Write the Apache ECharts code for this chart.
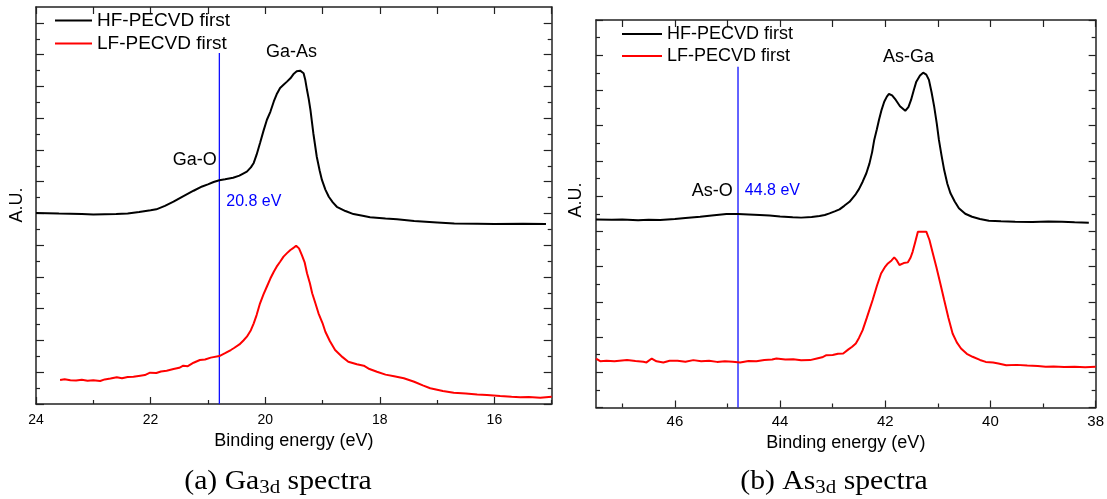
<!DOCTYPE html>
<html><head><meta charset="utf-8">
<script src="https://cdn.jsdelivr.net/npm/echarts@6/dist/echarts.min.js"></script>
<style>html,body{margin:0;padding:0;background:#fff}#c{width:1107px;height:499px}</style>
</head><body><div id="c"></div>
<script>
// ---------- data ----------
const seriesNames = ['HF-PECVD first', 'LF-PECVD first'];

// Ga3d panel: [binding energy (eV), intensity (a.u.)]
const hfGa = [[24.0,12.03],[23.8,12.01],[23.6,11.99],[23.4,11.98],[23.2,11.96],[23.0,11.93],[22.8,11.95],[22.6,11.97],[22.4,12.0],[22.2,12.09],[22.0,12.2],[21.9,12.26],[21.75,12.48],[21.6,12.74],[21.45,13.05],[21.25,13.43],[21.1,13.7],[21.0,13.83],[20.9,13.98],[20.8,14.09],[20.7,14.15],[20.56,14.25],[20.45,14.38],[20.32,14.63],[20.25,14.9],[20.2,15.18],[20.15,15.7],[20.09,16.44],[20.03,17.2],[19.97,17.9],[19.91,18.4],[19.85,19.05],[19.8,19.5],[19.74,19.9],[19.68,20.1],[19.62,20.3],[19.56,20.51],[19.5,20.8],[19.45,20.95],[19.39,20.99],[19.33,20.83],[19.3,20.4],[19.27,19.77],[19.24,19.2],[19.21,18.51],[19.16,17.05],[19.1,15.57],[19.05,14.7],[19.01,14.11],[18.95,13.5],[18.89,13.05],[18.82,12.7],[18.75,12.42],[18.6,12.15],[18.46,11.96],[18.3,11.85],[18.17,11.76],[17.9,11.68],[17.7,11.63],[17.4,11.52],[17.0,11.43],[16.7,11.36],[16.3,11.35],[16.0,11.34],[15.5,11.35],[15.1,11.34]];
const lfGa = [[23.58,1.51],[23.5,1.56],[23.4,1.5],[23.3,1.48],[23.2,1.52],[23.1,1.47],[23.0,1.5],[22.88,1.45],[22.8,1.55],[22.7,1.6],[22.59,1.68],[22.5,1.62],[22.4,1.7],[22.3,1.72],[22.18,1.78],[22.1,1.82],[22.01,1.97],[21.9,1.95],[21.82,2.05],[21.72,2.1],[21.6,2.2],[21.5,2.28],[21.43,2.41],[21.35,2.38],[21.25,2.6],[21.14,2.77],[21.05,2.8],[20.95,2.92],[20.8,3.02],[20.7,3.2],[20.6,3.4],[20.55,3.51],[20.45,3.75],[20.38,4.0],[20.32,4.24],[20.25,4.65],[20.2,5.08],[20.15,5.6],[20.09,6.34],[20.03,6.9],[19.97,7.4],[19.91,7.9],[19.85,8.33],[19.8,8.65],[19.74,8.96],[19.68,9.28],[19.62,9.5],[19.56,9.7],[19.5,9.85],[19.46,9.97],[19.41,9.8],[19.36,9.38],[19.31,8.9],[19.27,8.23],[19.22,7.6],[19.18,6.97],[19.12,6.3],[19.07,5.71],[19.0,5.1],[18.95,4.55],[18.87,3.95],[18.78,3.4],[18.65,2.95],[18.55,2.66],[18.4,2.5],[18.28,2.41],[18.18,2.2],[18.05,2.03],[17.9,1.85],[17.75,1.75],[17.58,1.62],[17.4,1.4],[17.25,1.17],[17.12,0.99],[16.9,0.82],[16.71,0.71],[16.5,0.66],[16.3,0.6],[16.13,0.57],[15.9,0.5],[15.7,0.45],[15.55,0.42],[15.4,0.44],[15.2,0.4],[15.0,0.46]];

// As3d panel
const hfAs = [[47.5,10.68],[47.2,10.66],[47.0,10.67],[46.7,10.63],[46.5,10.66],[46.28,10.64],[46.0,10.7],[45.8,10.76],[45.52,10.83],[45.3,10.9],[45.02,10.98],[44.8,10.98],[44.6,10.96],[44.39,10.93],[44.2,10.9],[44.0,10.85],[43.76,10.8],[43.6,10.78],[43.4,10.82],[43.25,10.87],[43.15,10.93],[43.06,11.02],[42.95,11.15],[42.87,11.25],[42.78,11.45],[42.68,11.68],[42.56,12.12],[42.5,12.4],[42.43,12.82],[42.36,13.3],[42.3,13.86],[42.25,14.5],[42.21,15.19],[42.16,15.8],[42.12,16.32],[42.07,16.9],[42.02,17.36],[41.97,17.65],[41.93,17.8],[41.87,17.72],[41.8,17.46],[41.72,17.1],[41.62,16.85],[41.56,17.05],[41.51,17.46],[41.46,18.0],[41.41,18.5],[41.34,18.85],[41.28,19.01],[41.22,18.9],[41.17,18.6],[41.12,17.9],[41.07,17.08],[41.02,16.1],[40.98,15.19],[40.93,14.3],[40.88,13.48],[40.82,12.7],[40.76,12.16],[40.68,11.7],[40.6,11.31],[40.48,11.0],[40.35,10.83],[40.2,10.7],[40.03,10.6],[39.8,10.57],[39.53,10.55],[39.2,10.53],[38.9,10.56],[38.64,10.55],[38.4,10.52],[38.13,10.49]];
const lfAs = [[47.5,2.78],[47.42,2.63],[47.3,2.66],[47.15,2.62],[46.91,2.69],[46.75,2.64],[46.6,2.6],[46.54,2.56],[46.44,2.78],[46.35,2.62],[46.22,2.56],[46.1,2.65],[45.95,2.66],[45.8,2.6],[45.65,2.69],[45.5,2.63],[45.35,2.66],[45.2,2.59],[45.05,2.63],[44.9,2.6],[44.76,2.56],[44.6,2.64],[44.45,2.62],[44.3,2.7],[44.15,2.72],[44.07,2.78],[43.9,2.72],[43.75,2.74],[43.6,2.68],[43.43,2.69],[43.3,2.78],[43.2,2.85],[43.12,2.97],[43.0,2.98],[42.9,3.05],[42.8,3.07],[42.7,3.3],[42.63,3.45],[42.56,3.64],[42.5,3.95],[42.43,4.39],[42.35,5.1],[42.24,6.1],[42.16,6.9],[42.08,7.61],[42.0,8.0],[41.95,8.18],[41.88,8.35],[41.83,8.52],[41.78,8.35],[41.73,8.09],[41.65,8.2],[41.57,8.24],[41.52,8.5],[41.48,8.84],[41.43,9.4],[41.38,9.98],[41.3,9.98],[41.22,9.98],[41.16,9.51],[41.1,8.8],[41.03,7.99],[40.95,7.0],[40.88,6.1],[40.8,5.1],[40.72,4.2],[40.64,3.7],[40.56,3.35],[40.45,3.05],[40.34,2.88],[40.2,2.7],[40.09,2.59],[39.95,2.55],[39.85,2.5],[39.7,2.4],[39.5,2.42],[39.3,2.38],[39.1,2.35],[38.95,2.31],[38.8,2.33],[38.6,2.3],[38.4,2.32],[38.2,2.29],[38.0,2.31]];

// axis ranges and tick values
const gaXRange = [15, 24];
const asXRange = [38, 47.5];
const gaYRange = [0, 25];
const asYRange = [0, 22];
const gaXMajor = [16, 18, 20, 22, 24];
const gaXMinor = [15, 17, 19, 21, 23];
const gaXTop = [15, 16, 17, 18, 19, 20, 21, 22, 23, 24];
const asXMajor = [38, 40, 42, 44, 46];
const asXMinor = [39, 41, 43, 45, 47];
const asXTop = [38, 39, 40, 41, 42, 43, 44, 45, 46, 47];
const gaYMajor = [0, 2, 4, 6, 8, 10, 12, 14, 16, 18, 20, 22, 24];
const gaYMinor = [1, 3, 5, 7, 9, 11, 13, 15, 17, 19, 21, 23];
const asYMajor = [0, 2, 4, 6, 8, 10, 12, 14, 16, 18, 20, 22];
const asYMinor = [1, 3, 5, 7, 9, 11, 13, 15, 17, 19, 21];

// reference lines (eV) and their top ends
const gaMarker = [[20.8, 0], [20.8, 22.1]];
const asMarker = [[44.8, 0], [44.8, 19.35]];

// annotations: [x, y, text]
const gaNotes = [[21.23, 15.37, 'Ga-O'], [19.54, 22.19, 'Ga-As']];
const gaBlueNote = [[20.68, 12.74, '20.8 eV']];
const asNotes = [[41.56, 19.92, 'As-Ga']];
const asLeftNote = [[44.9, 12.31, 'As-O']];
const asBlueNote = [[44.67, 12.31, '44.8 eV']];

const xTitle = 'Binding energy (eV)';
const yTitle = 'A.U.';
const captions = ['(a) Ga{sub|3d} spectra', '(b) As{sub|3d} spectra'];

// ---------- chart ----------
const FONT = 'Liberation Sans';
const AX = '#222';
const axLine = { show: true, onZero: false, lineStyle: { color: AX, width: 1.5 } };
const noLine = { show: false, onZero: false };

function xMain(grid, range, ticks, labelSize, margin, gap) {
  return { gridIndex: grid, type: 'value', position: 'bottom', inverse: true, min: range[0], max: range[1],
    axisLine: axLine,
    axisTick: { show: true, inside: true, length: 7, customValues: ticks, lineStyle: { color: AX, width: 1.2 } },
    axisLabel: { show: true, customValues: ticks, fontSize: labelSize, margin: margin, color: '#000', fontFamily: FONT },
    splitLine: { show: false },
    name: xTitle, nameLocation: 'middle', nameGap: gap,
    nameTextStyle: { fontSize: 18, color: '#000', fontFamily: FONT } };
}
function tickAxis(grid, pos, range, ticks, len, showLine, inverse) {
  return { gridIndex: grid, type: 'value', position: pos, inverse: !!inverse, min: range[0], max: range[1],
    axisLine: showLine ? axLine : noLine,
    axisTick: { show: true, inside: true, length: len, customValues: ticks, lineStyle: { color: AX, width: 1.2 } },
    axisLabel: { show: false, customValues: ticks },
    splitLine: { show: false } };
}

const chart = echarts.init(document.getElementById('c'), null, { renderer: 'canvas' });

const xAxis = [
  xMain(0, gaXRange, gaXMajor, 14, 9, 25),                   // 0
  tickAxis(0, 'bottom', gaXRange, gaXMinor, 4, false, true), // 1
  tickAxis(0, 'top', gaXRange, gaXTop, 7, true, true),       // 2
  xMain(1, asXRange, asXMajor, 15, 7, 22),                   // 3
  tickAxis(1, 'bottom', asXRange, asXMinor, 4, false, true), // 4
  tickAxis(1, 'top', asXRange, asXTop, 7, true, true)        // 5
];
const yAxis = [
  tickAxis(0, 'left', gaYRange, gaYMajor, 8, true),   // 0
  tickAxis(0, 'left', gaYRange, gaYMinor, 4, false),  // 1
  tickAxis(0, 'right', gaYRange, gaYMajor, 8, true),  // 2
  tickAxis(0, 'right', gaYRange, gaYMinor, 4, false), // 3
  tickAxis(1, 'left', asYRange, asYMajor, 7, true),   // 4
  tickAxis(1, 'left', asYRange, asYMinor, 4, false),  // 5
  tickAxis(1, 'right', asYRange, asYMajor, 7, true),  // 6
  tickAxis(1, 'right', asYRange, asYMinor, 4, false)  // 7
];

function lineSeries(name, data, xi, yi, color) {
  return { name: name, type: 'line', data: data, xAxisIndex: xi, yAxisIndex: yi, symbol: 'none', showSymbol: false,
    lineStyle: { color: color, width: 2 }, itemStyle: { color: color }, silent: true, z: 3 };
}
function markerSeries(data, xi, yi) {
  return { name: 'marker', type: 'line', data: data, xAxisIndex: xi, yAxisIndex: yi, symbol: 'none',
    lineStyle: { color: '#1010ff', width: 1.3 }, silent: true, z: 2 };
}
function noteSeries(notes, xi, yi, color, size, position) {
  return { name: 'notes', type: 'scatter', xAxisIndex: xi, yAxisIndex: yi, symbolSize: 0, silent: true,
    itemStyle: { opacity: 1 },
    data: notes.map(n => ({ value: [n[0], n[1]], name: n[2] })),
    label: { show: true, formatter: '{b}', position: position, distance: 0, color: color, opacity: 1,
      fontSize: size, fontFamily: FONT } };
}

const legendBase = {
  orient: 'vertical', selectedMode: false, itemGap: 4, itemHeight: 2, padding: 0, icon: 'rect',
  data: seriesNames
};

chart.setOption({
  animation: false,
  backgroundColor: '#fff',
  grid: [
    { left: 36, top: 7, width: 515.7, height: 397 },
    { left: 596, top: 20, width: 500.7, height: 387.5 }
  ],
  legend: [
    Object.assign({}, legendBase, { left: 55, top: 11, itemWidth: 37,
      textStyle: { fontSize: 19, fontFamily: FONT, color: '#000', lineHeight: 18 } }),
    Object.assign({}, legendBase, { left: 622, top: 25, itemWidth: 40,
      textStyle: { fontSize: 18, fontFamily: FONT, color: '#000', lineHeight: 18 } })
  ],
  xAxis: xAxis,
  yAxis: yAxis,
  series: [
    markerSeries(gaMarker, 0, 0),
    lineSeries(seriesNames[0], hfGa, 0, 0, '#000'),
    lineSeries(seriesNames[1], lfGa, 0, 0, '#ff0000'),
    noteSeries(gaNotes, 0, 0, '#000', 18, 'inside'),
    noteSeries(gaBlueNote, 0, 0, '#0000ff', 16, 'right'),
    markerSeries(asMarker, 3, 4),
    lineSeries(seriesNames[0], hfAs, 3, 4, '#000'),
    lineSeries(seriesNames[1], lfAs, 3, 4, '#ff0000'),
    noteSeries(asNotes, 3, 4, '#000', 18, 'inside'),
    noteSeries(asLeftNote, 3, 4, '#000', 18, 'left'),
    noteSeries(asBlueNote, 3, 4, '#0000ff', 16, 'right')
  ],
  graphic: [
    { type: 'text', x: 17, y: 205, rotation: Math.PI / 2,
      style: { text: yTitle, fontSize: 18, fontFamily: FONT, fill: '#000', align: 'center', verticalAlign: 'middle' } },
    { type: 'text', x: 576, y: 200, rotation: Math.PI / 2,
      style: { text: yTitle, fontSize: 18, fontFamily: FONT, fill: '#000', align: 'center', verticalAlign: 'middle' } },
    { type: 'text', x: 278, y: 482, scaleX: 1.1,
      style: { text: captions[0], fontSize: 27, fontFamily: 'Liberation Serif', fill: '#000', align: 'center', verticalAlign: 'middle', lineHeight: 32,
        rich: { sub: { fontSize: 19, fontFamily: 'Liberation Serif', lineHeight: 19, verticalAlign: 'bottom' } } } },
    { type: 'text', x: 834, y: 482, scaleX: 1.1,
      style: { text: captions[1], fontSize: 27, fontFamily: 'Liberation Serif', fill: '#000', align: 'center', verticalAlign: 'middle', lineHeight: 32,
        rich: { sub: { fontSize: 19, fontFamily: 'Liberation Serif', lineHeight: 19, verticalAlign: 'bottom' } } } }
  ]
});
</script></body></html>
